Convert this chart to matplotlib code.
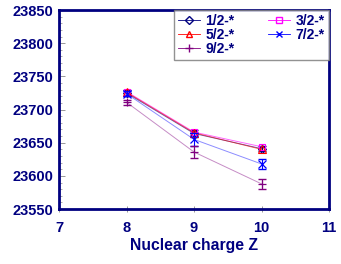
import matplotlib.pyplot as plt
from matplotlib.ticker import MultipleLocator
from matplotlib.lines import Line2D

plt.rcParams['font.family'] = ['Liberation Sans', 'DejaVu Sans']

# Nuclear charge
z = [8, 9, 10]

# Energias por serie
e12 = [23725, 23664, 23641]
e32 = [23727, 23666, 23644]
e52 = [23726, 23665, 23640]
e72 = [23724, 23655, 23618]
e92 = [23711, 23636, 23588]

# Barras de erro
err12 = [4, 5, 4]
err72 = [4, 10, 8]
err92 = [4, 9, 7]

labels = ['1/2-*', '3/2-*', '5/2-*', '7/2-*', '9/2-*']

navy = '#000080'

fig = plt.figure(figsize=(3.41, 2.64), dpi=100)
ax = fig.add_axes([0.173, 0.208, 0.792, 0.754])

ax.plot(z, e12, color=navy, lw=0.7, alpha=0.6)
ax.plot(z, e12, ls='none', marker='D', ms=4.5, mfc='none', mec=navy, mew=0.8)
ax.errorbar(z, e12, yerr=err12, fmt='none', ecolor=navy, elinewidth=0.8, capsize=3)

ax.plot(z, e32, color='#ff00ff', lw=0.7, alpha=0.6)
ax.plot(z, e32, ls='none', marker='s', ms=4.5, mfc='none', mec='#ff00ff', mew=0.8)

ax.plot(z, e52, color='#ff0000', lw=0.7, alpha=0.6)
ax.plot(z, e52, ls='none', marker='^', ms=5.5, mfc='none', mec='#ff0000', mew=0.8)

ax.plot(z, e72, color='#0000ff', lw=0.7, alpha=0.45)
ax.plot(z, e72, ls='none', marker='x', ms=5.5, mec='#0000ff', mew=0.9)
ax.errorbar(z, e72, yerr=err72, fmt='none', ecolor='#0000ff', elinewidth=0.8, capsize=3)

ax.plot(z, e92, color='#800080', lw=0.7, alpha=0.45)
ax.plot(z, e92, ls='none', marker='+', ms=6, mec='#800080', mew=0.9)
ax.errorbar(z, e92, yerr=err92, fmt='none', ecolor='#800080', elinewidth=0.8, capsize=3)

# Legenda: ordem por linhas (2 colunas)
h12 = Line2D([], [], color=navy, lw=0.6, marker='D', ms=4, mfc='none', mec=navy)
h32 = Line2D([], [], color='#ff00ff', lw=0.6, marker='s', ms=4, mfc='none', mec='#ff00ff')
h52 = Line2D([], [], color='#ff0000', lw=0.6, marker='^', ms=5, mfc='none', mec='#ff0000')
h72 = Line2D([], [], color='#0000ff', lw=0.6, marker='x', ms=5, mec='#0000ff')
h92 = Line2D([], [], color='#800080', lw=0.6, marker='+', ms=6, mec='#800080')
handles = [h12, h52, h92, h32, h72]
leg_labels = [labels[0], labels[2], labels[4], labels[1], labels[3]]
leg = ax.legend(handles, leg_labels, loc='upper right', ncol=2, fancybox=False,
                frameon=True, borderpad=0.3, handlelength=1.6, handletextpad=0.4,
                columnspacing=2.4, labelspacing=0.0, borderaxespad=0,
                prop={'weight': 'bold', 'size': 10}, bbox_to_anchor=(1.0, 1.0))
leg.get_frame().set_edgecolor('#777777')
leg.get_frame().set_linewidth(1.0)
for t in leg.get_texts():
    t.set_color(navy)

ax.set_xlim(7, 11)
ax.set_ylim(23550, 23850)
ax.set_xticks([7, 8, 9, 10, 11])
ax.set_yticks([23550, 23600, 23650, 23700, 23750, 23800, 23850])
ax.yaxis.set_minor_locator(MultipleLocator(10))

for s in ax.spines.values():
    s.set_color(navy)
    s.set_linewidth(2)
    s.set_zorder(3)

ax.tick_params(axis='y', which='major', direction='in', length=4, width=0.6,
               color='#888888', labelsize=10.5, labelcolor=navy, pad=4)
ax.tick_params(axis='y', which='minor', direction='in', length=2.5, width=0.5,
               color='#888888')
ax.tick_params(axis='x', which='major', direction='inout', length=5, width=0.6,
               color='#888888', labelsize=10.5, labelcolor=navy, pad=6)
for lab in ax.get_xticklabels() + ax.get_yticklabels():
    lab.set_fontweight('bold')

ax.set_xlabel('Nuclear charge Z', fontsize=11.3, fontweight='bold', color=navy, labelpad=2)

plt.savefig('out.png', dpi=100)
